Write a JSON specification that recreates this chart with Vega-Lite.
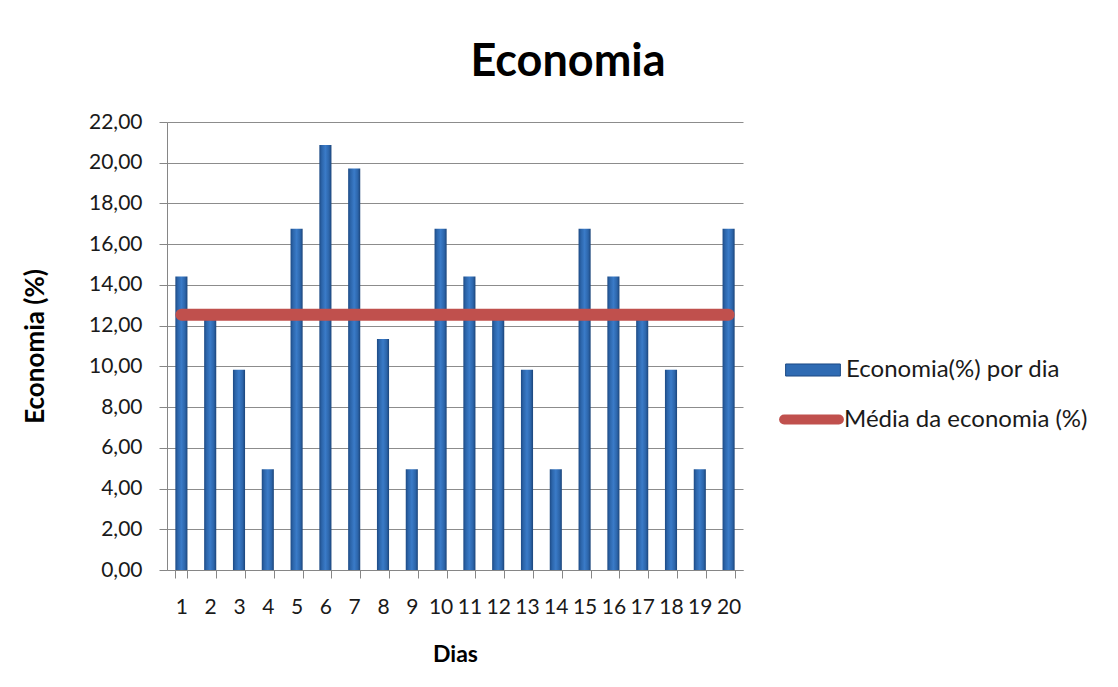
{
  "$schema": "https://vega.github.io/schema/vega-lite/v6.json",
  "autosize": "none",
  "width": 576,
  "height": 448,
  "padding": {"left": 167, "top": 122, "right": 375, "bottom": 117},
  "background": "white",
  "config": {
    "locale": {"number": {"decimal": ",", "thousands": ".", "grouping": [3], "currency": ["R$", ""]}},
    "font": "Lato",
    "view": {"stroke": null},
    "axis": {
      "labelFont": "Lato",
      "labelFontSize": 21,
      "labelColor": "#1a1a1a",
      "titleFont": "Lato",
      "titleFontSize": 23,
      "titleFontWeight": "bold",
      "titleColor": "#000000",
      "domainColor": "#868686",
      "tickColor": "#868686",
      "gridColor": "#8c8c8c",
      "gridOpacity": 1
    },
    "legend": {"labelFont": "Lato", "labelFontSize": 24, "labelColor": "#1a1a1a", "labelLimit": 0}
  },
  "title": {
    "text": "Economia",
    "font": "Lato",
    "fontSize": 45,
    "fontWeight": "bold",
    "color": "#000000",
    "anchor": "middle",
    "dx": 113,
    "offset": 26
  },
  "data": {
    "values": [
      {"dia": 1, "economia": 14.41, "media": 12.53},
      {"dia": 2, "economia": 12.5, "media": 12.53},
      {"dia": 3, "economia": 9.83, "media": 12.53},
      {"dia": 4, "economia": 4.95, "media": 12.53},
      {"dia": 5, "economia": 16.76, "media": 12.53},
      {"dia": 6, "economia": 20.87, "media": 12.53},
      {"dia": 7, "economia": 19.72, "media": 12.53},
      {"dia": 8, "economia": 11.34, "media": 12.53},
      {"dia": 9, "economia": 4.95, "media": 12.53},
      {"dia": 10, "economia": 16.76, "media": 12.53},
      {"dia": 11, "economia": 14.41, "media": 12.53},
      {"dia": 12, "economia": 12.5, "media": 12.53},
      {"dia": 13, "economia": 9.83, "media": 12.53},
      {"dia": 14, "economia": 4.95, "media": 12.53},
      {"dia": 15, "economia": 16.76, "media": 12.53},
      {"dia": 16, "economia": 14.41, "media": 12.53},
      {"dia": 17, "economia": 12.5, "media": 12.53},
      {"dia": 18, "economia": 9.83, "media": 12.53},
      {"dia": 19, "economia": 4.95, "media": 12.53},
      {"dia": 20, "economia": 16.76, "media": 12.53}
    ]
  },
  "encoding": {
    "x": {
      "field": "dia",
      "type": "ordinal",
      "title": "Dias",
      "scale": {"paddingInner": 0.58, "paddingOuter": 0.29},
      "axis": {
        "labelAngle": 0,
        "tickBand": "extent",
        "tickSize": 8,
        "labelPadding": 18,
        "titlePadding": 26,
        "domainWidth": 1
      }
    }
  },
  "layer": [
    {
      "mark": {
        "type": "bar",
        "color": {
          "gradient": "linear",
          "x1": 0, "x2": 1, "y1": 0, "y2": 0,
          "stops": [
            {"offset": 0, "color": "#1d4a84"},
            {"offset": 0.2, "color": "#2c65aa"},
            {"offset": 0.5, "color": "#3a7bc8"},
            {"offset": 0.8, "color": "#2c65aa"},
            {"offset": 1, "color": "#1b4479"}
          ]
        }
      },
      "encoding": {
        "y": {
          "field": "economia",
          "type": "quantitative",
          "title": "Economia (%)",
          "scale": {"domain": [0, 22]},
          "axis": {
            "values": [0, 2, 4, 6, 8, 10, 12, 14, 16, 18, 20, 22],
            "format": ".2f",
            "tickSize": 8,
            "labelPadding": 17,
            "titleFontSize": 26,
            "titlePadding": 40,
            "grid": true
          }
        }
      }
    },
    {
      "mark": {"type": "bar", "opacity": 0},
      "encoding": {
        "y": {"field": "economia", "type": "quantitative"},
        "fill": {
          "datum": "Economia(%) por dia",
          "scale": {"range": ["#2f6bb3"]},
          "legend": {
            "title": null,
            "orient": "none",
            "legendX": 618,
            "legendY": 220,
            "padding": 0,
            "symbolType": "M-1,-0.22H1V0.22H-1Z",
            "symbolSize": 3000,
            "symbolStrokeColor": "#1d4a84",
            "symbolStrokeWidth": 1,
            "labelFontSize": 24,
            "labelOffset": 5,
            "symbolOpacity": 1
          }
        }
      }
    },
    {
      "mark": {"type": "line", "strokeWidth": 12, "strokeCap": "round", "color": "#c0504d"},
      "encoding": {
        "y": {"field": "media", "type": "quantitative"},
        "stroke": {
          "datum": "Média da economia (%)",
          "scale": {"range": ["#c0504d"]},
          "legend": {
            "title": null,
            "orient": "none",
            "legendX": 612,
            "legendY": 265,
            "padding": 0,
            "symbolType": "stroke",
            "symbolSize": 3000,
            "symbolStrokeWidth": 10,
            "labelFontSize": 24,
            "labelOffset": 0,
            "symbolOpacity": 1,
            "encode": {"symbols": {"update": {"strokeCap": {"value": "round"}}}}
          }
        }
      }
    }
  ]
}
